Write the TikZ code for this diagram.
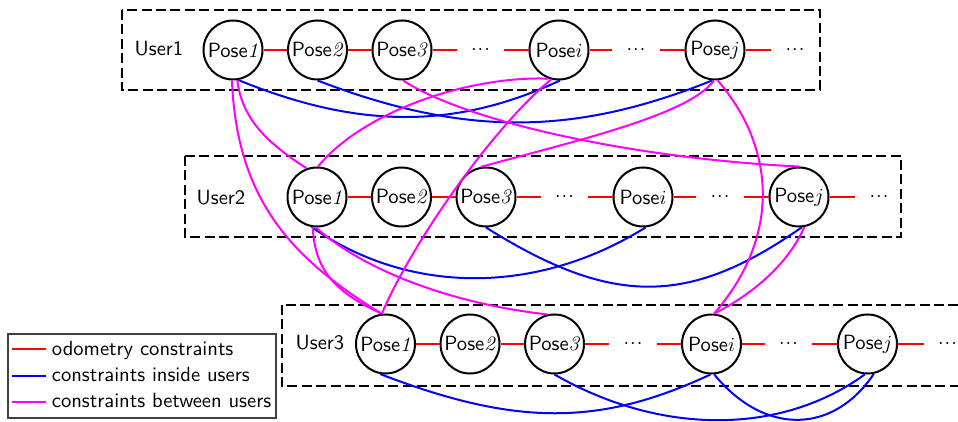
\documentclass[tikz,border=0pt]{standalone}
\usepackage{fontspec}
\definecolor{legendgray}{RGB}{64,64,64}
\definecolor{odored}{RGB}{255,0,0}
\definecolor{intrablue}{RGB}{0,0,255}
\definecolor{intermag}{RGB}{255,0,255}
\newcommand{\posetext}[1]{Pose\textrm{\textit{#1}}}
\newcommand{\mydots}{$\mathord{\cdotp}\mkern1mu\mathord{\cdotp}\mkern1mu\mathord{\cdotp}$}
\begin{document}
\begin{tikzpicture}[x=0.5pt,y=-0.5pt,
  font=\sffamily\fontsize{10.3}{12}\selectfont,
  pose/.style={circle, draw, line width=1pt, minimum size=29.5pt, inner sep=0pt, fill=white},
  dotsnode/.style={minimum width=23.5pt, minimum height=6pt, inner sep=0pt},
  userbox/.style={draw, line width=1pt, dash pattern=on 5pt off 2.2pt},
  odo/.style={odored, line width=1pt},
  intra/.style={intrablue, line width=1pt},
  inter/.style={intermag, line width=1pt},
  lbl/.style={inner sep=0pt}]
\clip (0,0) rectangle (958,422);

% user boxes
\draw[userbox] (122,10) rectangle (820,90);
\draw[userbox] (185,156) rectangle (901,237);
\draw[userbox] (282,305) rectangle (1000,386);

% labels
\node[lbl] (u1) at (159,49) {User1};
\node[lbl] (u2) at (221,197.5) {User2};
\node[lbl] (u3) at (320,343) {User3};

% row 1
\node[pose] (a1) at (233,50) {\posetext{1}};
\node[pose] (a2) at (317.5,50) {\posetext{2}};
\node[pose] (a3) at (402,50) {\posetext{3}};
\node[dotsnode] (ad1) at (480.5,50) {\mydots};
\node[pose] (ai) at (559,50) {\posetext{$i$}};
\node[dotsnode] (ad2) at (636,50) {\mydots};
\node[pose] (aj) at (715,50) {\posetext{$j$}};
\node[dotsnode] (ad3) at (795,50) {\mydots};

% row 2
\node[pose] (b1) at (317,197) {\posetext{1}};
\node[pose] (b2) at (401.5,197) {\posetext{2}};
\node[pose] (b3) at (486,197) {\posetext{3}};
\node[dotsnode] (bd1) at (564.5,197) {\mydots};
\node[pose] (bi) at (643,197) {\posetext{$i$}};
\node[dotsnode] (bd2) at (720,197) {\mydots};
\node[pose] (bj) at (799,197) {\posetext{$j$}};
\node[dotsnode] (bd3) at (879,197) {\mydots};

% row 3
\node[pose] (c1) at (385.5,344) {\posetext{1}};
\node[pose] (c2) at (470,344) {\posetext{2}};
\node[pose] (c3) at (554.5,344) {\posetext{3}};
\node[dotsnode] (cd1) at (633,344) {\mydots};
\node[pose] (ci) at (711.5,344) {\posetext{$i$}};
\node[dotsnode] (cd2) at (788.5,344) {\mydots};
\node[pose] (cj) at (867.5,344) {\posetext{$j$}};
\node[dotsnode] (cd3) at (947.5,344) {\mydots};

% odometry
\foreach \r in {a,b,c}{
  \draw[odo] (\r1) -- (\r2);
  \draw[odo] (\r2) -- (\r3);
  \draw[odo] (\r3) -- (\r d1);
  \draw[odo] (\r d1) -- (\r i);
  \draw[odo] (\r i) -- (\r d2);
  \draw[odo] (\r d2) -- (\r j);
  \draw[odo] (\r j) -- (\r d3);
}

% constraints inside users
\draw[intra] (a1.-80) .. controls +(120,49) and +(-105,49) .. (ai.-88);
\draw[intra] (a2.-90) .. controls +(146,56) and +(-139,56) .. (aj.-95);
\draw[intra] (b1.-100) .. controls +(97,68) and +(-109,68) .. (bi.-85);
\draw[intra] (b3.-90) .. controls +(126,79) and +(-113,79) .. (bj.-85);
\draw[intra] (c1.-100) .. controls +(135,52) and +(-111,52) .. (ci.-92);
\draw[intra] (c3.-90) .. controls +(106,61) and +(-84,61) .. (cj.-95);
\draw[intra] (ci.-85) .. controls +(50,61) and +(-41,61) .. (cj.-78);

% constraints between users
\draw[inter] (a1.-82) .. controls +(5,39) and +(-40,-26) .. (b1.110);
\draw[inter] (a1.-92) .. controls +(5,120) and +(-90,-55) .. (c1.97);
\draw[inter] (b1.-98) .. controls +(2,42) and +(-48,-22) .. (c1.97);
\draw[inter] (b1.-92) .. controls +(50,45) and +(-90,-10) .. (c3.104);
\draw[inter] (b1.88) .. controls +(45,-55) and +(-80,-3) .. (ai.-110);
\draw[inter] (ai.-105) .. controls +(-60,50) and +(30,-70) .. (c1.97);
\draw[inter] (aj.-92) .. controls +(-25,35) and +(90,-25) .. (b3.100);
\draw[inter] (aj.-85) .. controls +(60,70) and +(65,-75) .. (ci.85);
\draw[inter] (bj.-80) .. controls +(-15,35) and +(40,-20) .. (ci.85);
\draw[inter] (a3.-88) .. controls +(70,45) and +(-150,-7) .. (bj.90);

% legend
\draw[line width=1pt, legendgray] (8,334) rectangle (276,418);
\coordinate (l1a) at (12,349.3); \coordinate (l1b) at (46,349.3);
\coordinate (l2a) at (12,375.7); \coordinate (l2b) at (46,375.7);
\coordinate (l3a) at (12,401.7); \coordinate (l3b) at (46,401.7);
\draw[odo] (l1a) -- (l1b);
\draw[intra] (l2a) -- (l2b);
\draw[inter] (l3a) -- (l3b);
\node[lbl, anchor=base west] (t1) at (51.5,355) {odometry constraints};
\node[lbl, anchor=base west] (t2) at (51.5,381.4) {constraints inside users};
\node[lbl, anchor=base west] (t3) at (51.5,407.4) {constraints between users};
\end{tikzpicture}
\end{document}
